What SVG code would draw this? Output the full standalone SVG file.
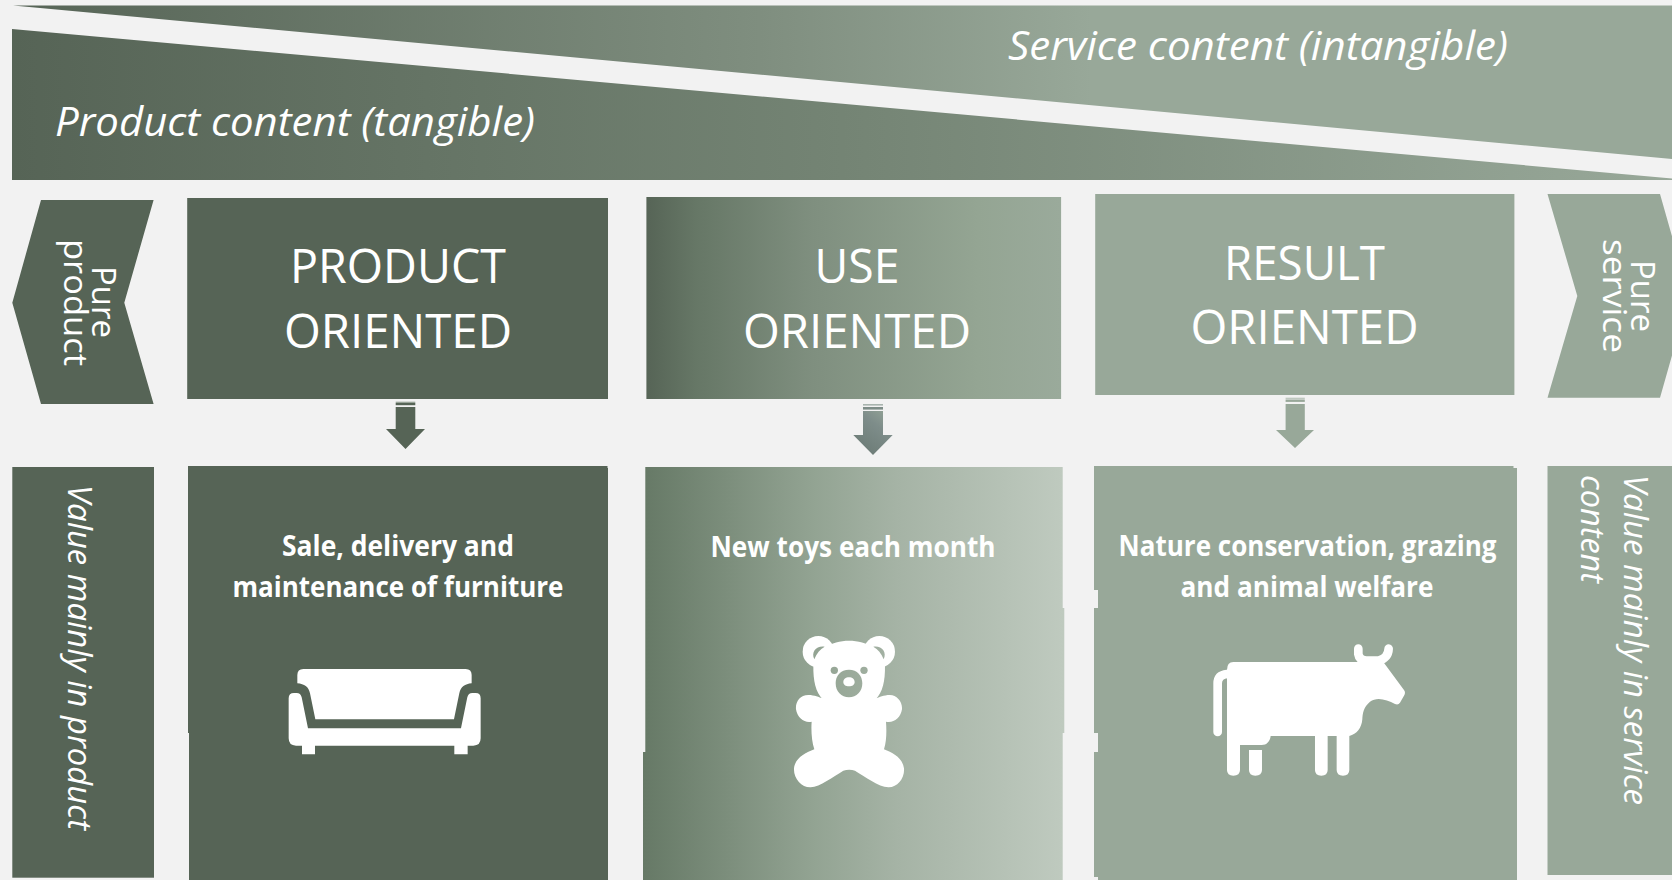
<svg xmlns="http://www.w3.org/2000/svg" width="1672" height="880" viewBox="0 0 1672 880">
<style>
text{font-family:"Open Sans","Noto Sans",sans-serif;fill:#fff}
.h{font-size:47px;text-anchor:middle}
.w{font-size:41px;font-style:italic}
.b{font-size:29px;font-weight:700;text-anchor:middle}
.p{font-size:33px}
.v{font-size:33px;font-style:italic}
.dark{fill:#566456}
.light{fill:#98a899}
</style>
<defs>
<linearGradient id="gTop" gradientUnits="userSpaceOnUse" x1="13" y1="0" x2="1672" y2="0"><stop offset="0" stop-color="#566456"/><stop offset=".45" stop-color="#7f8e7f"/><stop offset=".65" stop-color="#98a899"/><stop offset="1" stop-color="#98a899"/></linearGradient>
<linearGradient id="gBot" gradientUnits="userSpaceOnUse" x1="12" y1="0" x2="1672" y2="0"><stop offset="0" stop-color="#566456"/><stop offset=".5" stop-color="#748474"/><stop offset="1" stop-color="#98a899"/></linearGradient>
<linearGradient id="gUse" gradientUnits="userSpaceOnUse" x1="646" y1="0" x2="1061" y2="0"><stop offset="0" stop-color="#566456"/><stop offset=".12" stop-color="#667766"/><stop offset=".4" stop-color="#7f8f7f"/><stop offset=".8" stop-color="#94a593"/><stop offset="1" stop-color="#9aaa9b"/></linearGradient>
<linearGradient id="gUse2" gradientUnits="userSpaceOnUse" x1="643" y1="0" x2="1064" y2="0"><stop offset="0" stop-color="#667966"/><stop offset=".4" stop-color="#92a392"/><stop offset=".6" stop-color="#a5b3a5"/><stop offset="1" stop-color="#bfcabf"/></linearGradient>
<linearGradient id="gArrow" gradientUnits="userSpaceOnUse" x1="858" y1="445" x2="888" y2="405"><stop offset="0" stop-color="#6e7d78"/><stop offset=".55" stop-color="#7e8d8a"/><stop offset="1" stop-color="#98a899"/></linearGradient>
<mask id="bearMask" maskUnits="userSpaceOnUse" x="780" y="620" width="140" height="180">
<rect x="780" y="620" width="140" height="180" fill="#fff"/>
<g transform="translate(780,620) scale(.3333)" fill="#000">
<path d="M103 118C92 95 110 76 134 80C120 88 110 100 103 118Z"/>
<path d="M311 118C322 95 304 76 280 80C294 88 304 100 311 118Z"/>
<circle cx="163" cy="151" r="11"/><circle cx="252" cy="151" r="11"/>
<path fill-rule="evenodd" d="M207 149C232 149 247 167 247 190C247 215 230 232 207 232C184 232 167 215 167 190C167 167 182 149 207 149ZM207 172C197 172 190 178 190 186C190 194 197 199 207 199C217 199 224 194 224 186C224 178 217 172 207 172Z"/>
</g>
</mask>
</defs>
<rect width="1672" height="880" fill="#f2f2f2"/>

<g id="service-wedge"><polygon points="13,5.5 1672,5.5 1672,159" fill="url(#gTop)"/><text class="w" x="1008" y="60" textLength="500" lengthAdjust="spacingAndGlyphs">Service content (intangible)</text></g>
<g id="product-wedge"><polygon points="12,29 1672,178.5 1672,180 12,180" fill="url(#gBot)"/><text class="w" x="55" y="136" textLength="480" lengthAdjust="spacingAndGlyphs">Product content (tangible)</text></g>

<g id="pure-product"><polygon class="dark" points="41,200 153.6,200 124.3,302.7 153.6,404 41,404 12.3,302.7"/>
<text class="p" transform="translate(92,266) rotate(90)" textLength="72" lengthAdjust="spacingAndGlyphs">Pure</text>
<text class="p" transform="translate(64,239) rotate(90)" textLength="127" lengthAdjust="spacingAndGlyphs">product</text></g>

<g id="product-oriented"><rect class="dark" x="187.2" y="198" width="420.8" height="201"/>
<text class="h" x="398" y="283.3" textLength="216" lengthAdjust="spacingAndGlyphs">PRODUCT</text><text class="h" x="398" y="347.7" textLength="228" lengthAdjust="spacingAndGlyphs">ORIENTED</text></g>

<g id="use-oriented"><rect x="646.4" y="197" width="414.7" height="202" fill="url(#gUse)"/>
<text class="h" x="857" y="283.3" textLength="85" lengthAdjust="spacingAndGlyphs">USE</text><text class="h" x="857" y="347.7" textLength="228" lengthAdjust="spacingAndGlyphs">ORIENTED</text></g>

<g id="result-oriented"><rect class="light" x="1095.2" y="194" width="419.2" height="201"/>
<text class="h" x="1304.5" y="280" textLength="161" lengthAdjust="spacingAndGlyphs">RESULT</text><text class="h" x="1304.5" y="344" textLength="228" lengthAdjust="spacingAndGlyphs">ORIENTED</text></g>

<g id="pure-service"><polygon class="light" points="1547.5,194 1660,194 1689,296 1660,397.7 1547.5,397.7 1577.3,296"/>
<text class="p" transform="translate(1631,260) rotate(90)" textLength="72" lengthAdjust="spacingAndGlyphs">Pure</text>
<text class="p" transform="translate(1603,239) rotate(90)" textLength="114" lengthAdjust="spacingAndGlyphs">service</text></g>

<g id="connectors">
<g id="arrow-product"><polygon class="dark" points="395.7,407 415.3,407 415.3,429 425,429 405.5,449 386,429 395.7,429"/><rect class="dark" x="395.7" y="403" width="19.6" height="2.2"/><rect x="395.7" y="401.7" width="19.6" height="1.2" fill="#8f9c8f"/></g>
<g id="arrow-use"><polygon fill="url(#gArrow)" points="863,411 883,411 883,435 892.7,435 873,455 853.3,435 863,435"/><rect x="863" y="407" width="20" height="2.6" fill="#7e8d88"/><rect x="863" y="404" width="20" height="1.6" fill="#a8b4ae"/></g>
<g id="arrow-result"><polygon class="light" points="1285.6,404 1304.8,404 1304.8,430 1314,430 1295,448 1276,430 1285.6,430"/><rect class="light" x="1285.6" y="399.5" width="19.2" height="2.4"/><rect x="1285.6" y="397.7" width="19.2" height="1.2" fill="#b9c4ba"/></g>
</g>

<g id="value-product"><rect class="dark" x="12.3" y="467" width="141.7" height="410.7"/>
<text class="v" transform="translate(68,485) rotate(90)" textLength="345" lengthAdjust="spacingAndGlyphs">Value mainly in product</text></g>

<g id="furniture"><polygon class="dark" points="188,466 607.5,466 607.5,468 608,468 608,880 189,880 189,733 188,733"/>
<text class="b" x="398" y="556" textLength="232" lengthAdjust="spacingAndGlyphs">Sale, delivery and</text><text class="b" x="398" y="597" textLength="331" lengthAdjust="spacingAndGlyphs">maintenance of furniture</text>
<g transform="translate(270,650) scale(.3333)" fill="#fff">
<path d="M100 57H587Q605 57 605 75V100C585 102 572 110 568 130L552 208H136L120 130C116 110 103 102 82 100V75Q82 57 100 57Z"/>
<path d="M72 129H80Q92 129 95 142L114 235H573L592 142Q595 129 607 129H617Q632 129 632 145V265Q632 287 610 287H593V313H553V287H135V313H96V287H78Q56 287 56 265V145Q56 129 72 129Z"/>
</g></g>

<g id="toys"><polygon fill="url(#gUse2)" points="645.3,467 1062.7,467 1062.7,608 1064.3,608 1064.3,733 1062.7,733 1062.7,880 643,880 643,752 645.3,752"/>
<text class="b" x="853" y="557" textLength="285" lengthAdjust="spacingAndGlyphs">New toys each month</text>
<g mask="url(#bearMask)"><g transform="translate(780,620) scale(.3333)" fill="#fff">
<circle cx="115" cy="95" r="47"/><circle cx="298" cy="95" r="47"/>
<path d="M100 140C100 180 105 215 130 240H285C310 215 315 180 315 140C315 90 260 62 207 62C155 62 100 90 100 140Z"/>
<path d="M85 225C60 225 46 245 48 268C52 295 75 310 95 305C93 330 95 365 103 388C75 398 45 415 42 445C40 475 65 503 92 502C120 500 160 470 190 452C200 448 215 448 225 452C255 470 295 500 325 502C352 503 375 475 372 445C368 415 340 398 312 388C320 365 320 330 318 305C340 310 362 295 366 268C368 245 350 225 330 225C310 225 300 232 285 235H130C115 232 105 225 85 225Z"/>
</g></g></g>

<g id="conservation"><polygon class="light" points="1094,466 1513.5,466 1513.5,468 1517,468 1517,880 1098,880 1098,877 1094,877 1094,752 1098,752 1098,733 1094,733 1094,608 1098,608 1098,590 1094,590"/>
<text class="b" x="1307.5" y="556" textLength="378" lengthAdjust="spacingAndGlyphs">Nature conservation, grazing</text><text class="b" x="1307" y="597" textLength="253" lengthAdjust="spacingAndGlyphs">and animal welfare</text>
<g transform="translate(1200,630) scale(.3333)" fill="#fff">
<path d="M475 56V72Q478 92 500 92H535Q565 85 566 56" fill="none" stroke="#fff" stroke-width="26" stroke-linecap="round"/>
<path d="M53 306V160Q53 135 81 132" fill="none" stroke="#fff" stroke-width="26" stroke-linecap="round"/>
<path d="M100 96H550L612 180Q618 188 612 197L600 218Q595 226 585 222C560 208 530 200 510 215C490 232 488 250 487 268C485 295 470 312 448 318V420Q448 437 429 437Q410 437 410 420V318H383V420Q383 437 364 437Q345 437 345 420V318H212C210 335 200 345 185 345H120V420Q120 437 100 437Q81 437 81 420V120Q81 96 100 96Z"/>
<path d="M147 360H186V420Q186 437 166 437Q147 437 147 420Z"/>
</g></g>

<g id="value-service"><rect class="light" x="1547.5" y="466" width="124.5" height="409"/>
<text class="v" transform="translate(1624,475) rotate(90)" textLength="330" lengthAdjust="spacingAndGlyphs">Value mainly in service</text>
<text class="v" transform="translate(1581,475) rotate(90)" textLength="108" lengthAdjust="spacingAndGlyphs">content</text></g>
</svg>
